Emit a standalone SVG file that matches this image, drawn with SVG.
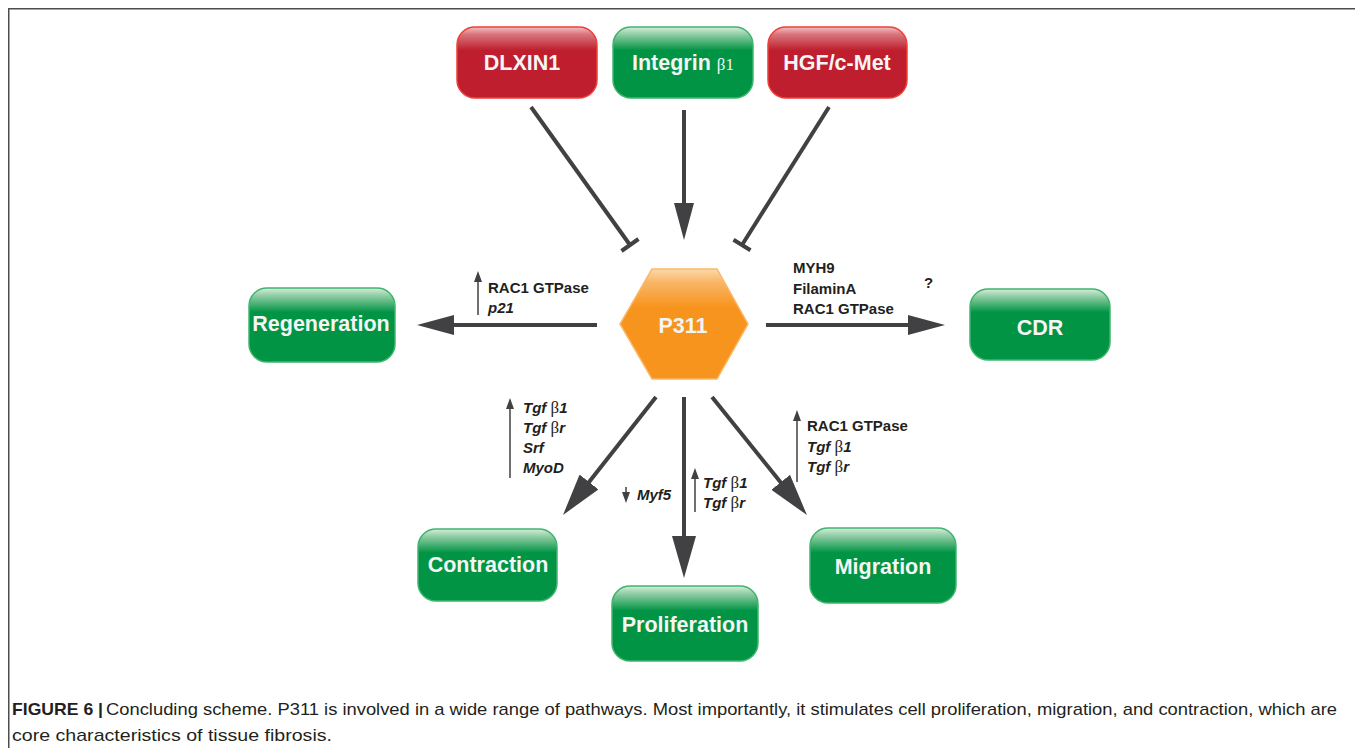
<svg xmlns="http://www.w3.org/2000/svg" width="1355" height="748" viewBox="0 0 1355 748">
<style>
.frame{stroke:#4d4d4d;stroke-width:1.5;fill:none}
.gbox{fill:url(#gG);stroke:#3fb56c;stroke-width:1.5}
.rbox{fill:url(#gR);stroke:#ee4036;stroke-width:1.5}
.lbl{font-family:"Liberation Sans",Arial,sans-serif;font-weight:bold;font-size:21.5px;fill:#f4f5f4;text-anchor:middle}
.big{stroke:#414042;stroke-width:4;fill:none}
.thin{stroke:#414042;stroke-width:1.5;fill:none}
.t{font-family:"Liberation Sans",Arial,sans-serif;font-weight:bold;font-size:15px;fill:#231f20}
.bi{font-style:italic}
.sym{font-family:"Liberation Serif","Times New Roman",serif;font-weight:normal;font-style:normal;font-size:17px}
.cap{font-family:"Liberation Sans",Arial,sans-serif;font-size:17px;fill:#231f20}
</style>
<defs>
<linearGradient id="gG" x1="0" y1="0" x2="0" y2="1">
<stop offset="0" stop-color="#d6eddc"/>
<stop offset="0.1" stop-color="#92cea6"/>
<stop offset="0.33" stop-color="#009444"/>
<stop offset="1" stop-color="#009444"/>
</linearGradient>
<linearGradient id="gR" x1="0" y1="0" x2="0" y2="1">
<stop offset="0" stop-color="#f2c0c2"/>
<stop offset="0.1" stop-color="#da777e"/>
<stop offset="0.33" stop-color="#be1e2d"/>
<stop offset="1" stop-color="#be1e2d"/>
</linearGradient>
<linearGradient id="gO" x1="0" y1="0" x2="0" y2="1">
<stop offset="0" stop-color="#fcd9ab"/>
<stop offset="0.12" stop-color="#f9b566"/>
<stop offset="0.35" stop-color="#f7941d"/>
<stop offset="1" stop-color="#f7941d"/>
</linearGradient>
<marker id="hh" markerUnits="userSpaceOnUse" markerWidth="37" markerHeight="20" refX="6" refY="10" orient="auto">
<path d="M0,0 L37,10 L0,20 z" fill="#414042"/>
</marker>
<marker id="hd" markerUnits="userSpaceOnUse" markerWidth="42" markerHeight="24" refX="6" refY="12" orient="auto">
<path d="M0,0 L42,12 L0,24 z" fill="#414042"/>
</marker>
<marker id="sh" markerUnits="userSpaceOnUse" markerWidth="11" markerHeight="8" refX="2" refY="4" orient="auto">
<path d="M0,0 L11,4 L0,8 z" fill="#414042"/>
</marker>
</defs>
<rect width="1355" height="748" fill="#ffffff"/>
<path class="frame" d="M8.75,748 V8.75 H1355"/>

<g id="connectors">
<path class="big" d="M531,107 L630,245"/>
<path class="big" d="M621.5,251 L638.5,239"/>
<path class="big" d="M829,107 L742,245"/>
<path class="big" d="M733.5,239.7 L750.5,250.3"/>
<path class="big" d="M684,110 V209" marker-end="url(#hh)"/>
<path class="big" d="M597,325 H448" marker-end="url(#hh)"/>
<path class="big" d="M766,325 H914" marker-end="url(#hh)"/>
<path class="big" d="M684,397 V542" marker-end="url(#hd)"/>
<path class="big" d="M656,397 L585.3,486.7" marker-end="url(#hd)"/>
<path class="big" d="M712,397 L784.4,487" marker-end="url(#hd)"/>
<path class="thin" d="M478,315 V280" marker-end="url(#sh)"/>
<path class="thin" d="M510,478 V407" marker-end="url(#sh)"/>
<path class="thin" d="M626,487 V494" marker-end="url(#sh)"/>
<path class="thin" d="M695,512 V477" marker-end="url(#sh)"/>
<path class="thin" d="M797,482 V419" marker-end="url(#sh)"/>
</g>

<g id="labels">
<text class="t" x="488" y="293">RAC1 GTPase</text>
<text class="t bi" x="488" y="313">p21</text>
<text class="t" x="793" y="273">MYH9</text>
<text class="t" x="793" y="294">FilaminA</text>
<text class="t" x="793" y="314">RAC1 GTPase</text>
<text class="t" x="924" y="288">?</text>
<text class="t" x="523" y="413"><tspan class="bi">Tgf</tspan><tspan class="sym"> β</tspan><tspan class="bi">1</tspan></text>
<text class="t" x="523" y="433"><tspan class="bi">Tgf</tspan><tspan class="sym"> β</tspan><tspan class="bi">r</tspan></text>
<text class="t bi" x="523" y="453">Srf</text>
<text class="t bi" x="523" y="473">MyoD</text>
<text class="t bi" x="637" y="500">Myf5</text>
<text class="t" x="703" y="488"><tspan class="bi">Tgf</tspan><tspan class="sym"> β</tspan><tspan class="bi">1</tspan></text>
<text class="t" x="703" y="508"><tspan class="bi">Tgf</tspan><tspan class="sym"> β</tspan><tspan class="bi">r</tspan></text>
<text class="t" x="807" y="431">RAC1 GTPase</text>
<text class="t" x="807" y="452"><tspan class="bi">Tgf</tspan><tspan class="sym"> β</tspan><tspan class="bi">1</tspan></text>
<text class="t" x="807" y="472"><tspan class="bi">Tgf</tspan><tspan class="sym"> β</tspan><tspan class="bi">r</tspan></text>
</g>

<g id="DLXIN1">
<rect class="rbox" x="457" y="27" width="140" height="71" rx="18"/>
<text class="lbl" x="522" y="70">DLXIN1</text>
</g>
<g id="Integrin">
<rect class="gbox" x="613" y="27" width="140" height="71" rx="18"/>
<text class="lbl" x="683" y="70">Integrin <tspan class="sym" font-size="23px">β1</tspan></text>
</g>
<g id="HGF">
<rect class="rbox" x="768" y="27" width="139" height="71" rx="18"/>
<text class="lbl" x="837" y="70">HGF/c-Met</text>
</g>
<g id="P311">
<polygon points="652,269 717,269 748,324 717,379 652,379 620,324" fill="url(#gO)" stroke="#fbb867" stroke-width="1.5"/>
<text class="lbl" x="683" y="333" font-size="26px">P311</text>
</g>
<g id="Regeneration">
<rect class="gbox" x="249" y="288" width="146" height="74" rx="18"/>
<text class="lbl" x="321" y="331">Regeneration</text>
</g>
<g id="CDR">
<rect class="gbox" x="970" y="289" width="140" height="71" rx="18"/>
<text class="lbl" x="1040" y="335">CDR</text>
</g>
<g id="Contraction">
<rect class="gbox" x="418" y="529" width="139" height="72" rx="18"/>
<text class="lbl" x="488" y="572">Contraction</text>
</g>
<g id="Proliferation">
<rect class="gbox" x="612" y="586" width="146" height="75" rx="18"/>
<text class="lbl" x="685" y="632">Proliferation</text>
</g>
<g id="Migration">
<rect class="gbox" x="810" y="528" width="146" height="75" rx="18"/>
<text class="lbl" x="883" y="574">Migration</text>
</g>

<g id="caption">
<text class="cap" x="12" y="715" font-weight="bold" textLength="91" lengthAdjust="spacingAndGlyphs">FIGURE 6 |</text>
<text class="cap" x="106" y="715" textLength="1231" lengthAdjust="spacingAndGlyphs">Concluding scheme. P311 is involved in a wide range of pathways. Most importantly, it stimulates cell proliferation, migration, and contraction, which are</text>
<text class="cap" x="12" y="741" textLength="320" lengthAdjust="spacingAndGlyphs">core characteristics of tissue fibrosis.</text>
</g>
</svg>
